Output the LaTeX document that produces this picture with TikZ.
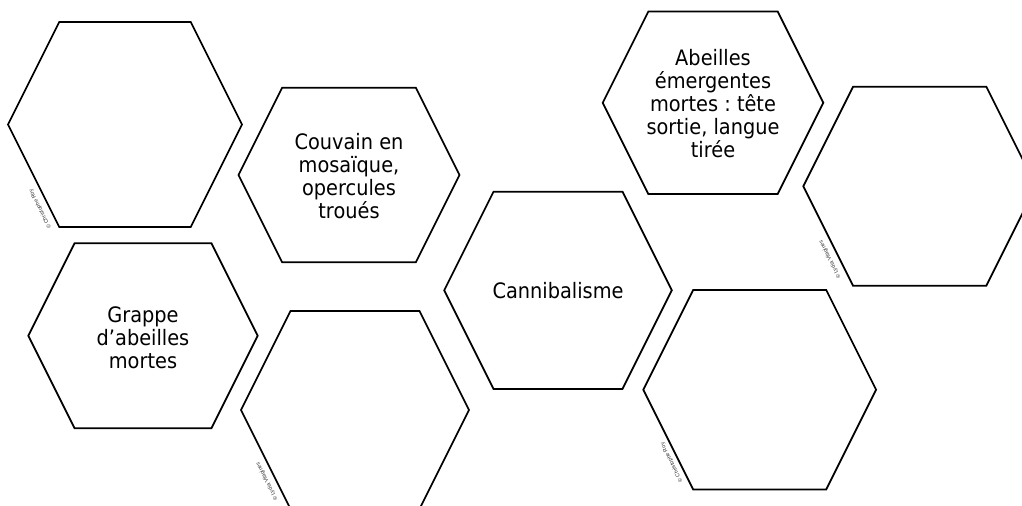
\documentclass[tikz,border=0pt]{standalone}
\usepackage{fontspec}
\setmainfont{DejaVu Sans}[FakeStretch=0.91]
\newfontfamily\creditfont{Liberation Sans}
\frenchspacing
\tikzset{
	hexline/.style = {line width=1pt, line join=miter},
	cell text/.style = {align=center, inner sep=0pt, font=\fontsize{12.1}{13.1}\selectfont},
	credit/.style = {anchor=west, inner sep=0pt, rotate=116.57, text=black!80,
		font=\creditfont\fontsize{3.1}{3.1}\selectfont}
}
% hexagon: centre x, centre y, half width, half height
\newcommand{\hexcell}[4]{%
	\draw[hexline] ({#1-#3},#2) -- ({#1-#3+#4/2},{#2-#4}) -- ({#1+#3-#4/2},{#2-#4})
		-- ({#1+#3},#2) -- ({#1+#3-#4/2},{#2+#4}) -- ({#1-#3+#4/2},{#2+#4}) -- cycle;}

\begin{document}
\begin{tikzpicture}[x=0.02cm, y=-0.02cm]
		\useasboundingbox (0,0) rectangle (1022,505);
		% photo cells
		\hexcell{125}{124.5}{117}{102.5}
		\hexcell{355}{410}{114}{99}
		\hexcell{919.7}{186.2}{116.4}{99.5}
		\hexcell{759.7}{389.7}{116.4}{99.7}
		\node[credit] (creditA) at (50,228.5) {© Christophe Roy};
		\node[credit] (creditH) at (276.5,500.5) {© Lydia Vilagines};
		\node[credit] (creditF) at (839.5,278.5) {© Lydia Vilagines};
		\node[credit] (creditG) at (681.5,482) {© Christophe Roy};
		% text cells
		\hexcell{349}{175}{110.5}{87.3}
		\hexcell{143}{335.8}{114.7}{92.5}
		\hexcell{558}{290.3}{113.8}{98.6}
		\hexcell{713}{102.8}{110.3}{91.2}
		\node[cell text] (couvain) at (349,176) {Couvain en\\mosaïque,\\opercules\\troués};
		\node[cell text] (grappe) at (143,338) {Grappe\\d’abeilles\\mortes};
		\node[cell text] (canni) at (558,291) {Cannibalisme};
		\node[cell text] (abeilles) at (713,104) {Abeilles\\émergentes\\mortes : tête\\sortie, langue\\tirée};
	\end{tikzpicture}
\end{document}
